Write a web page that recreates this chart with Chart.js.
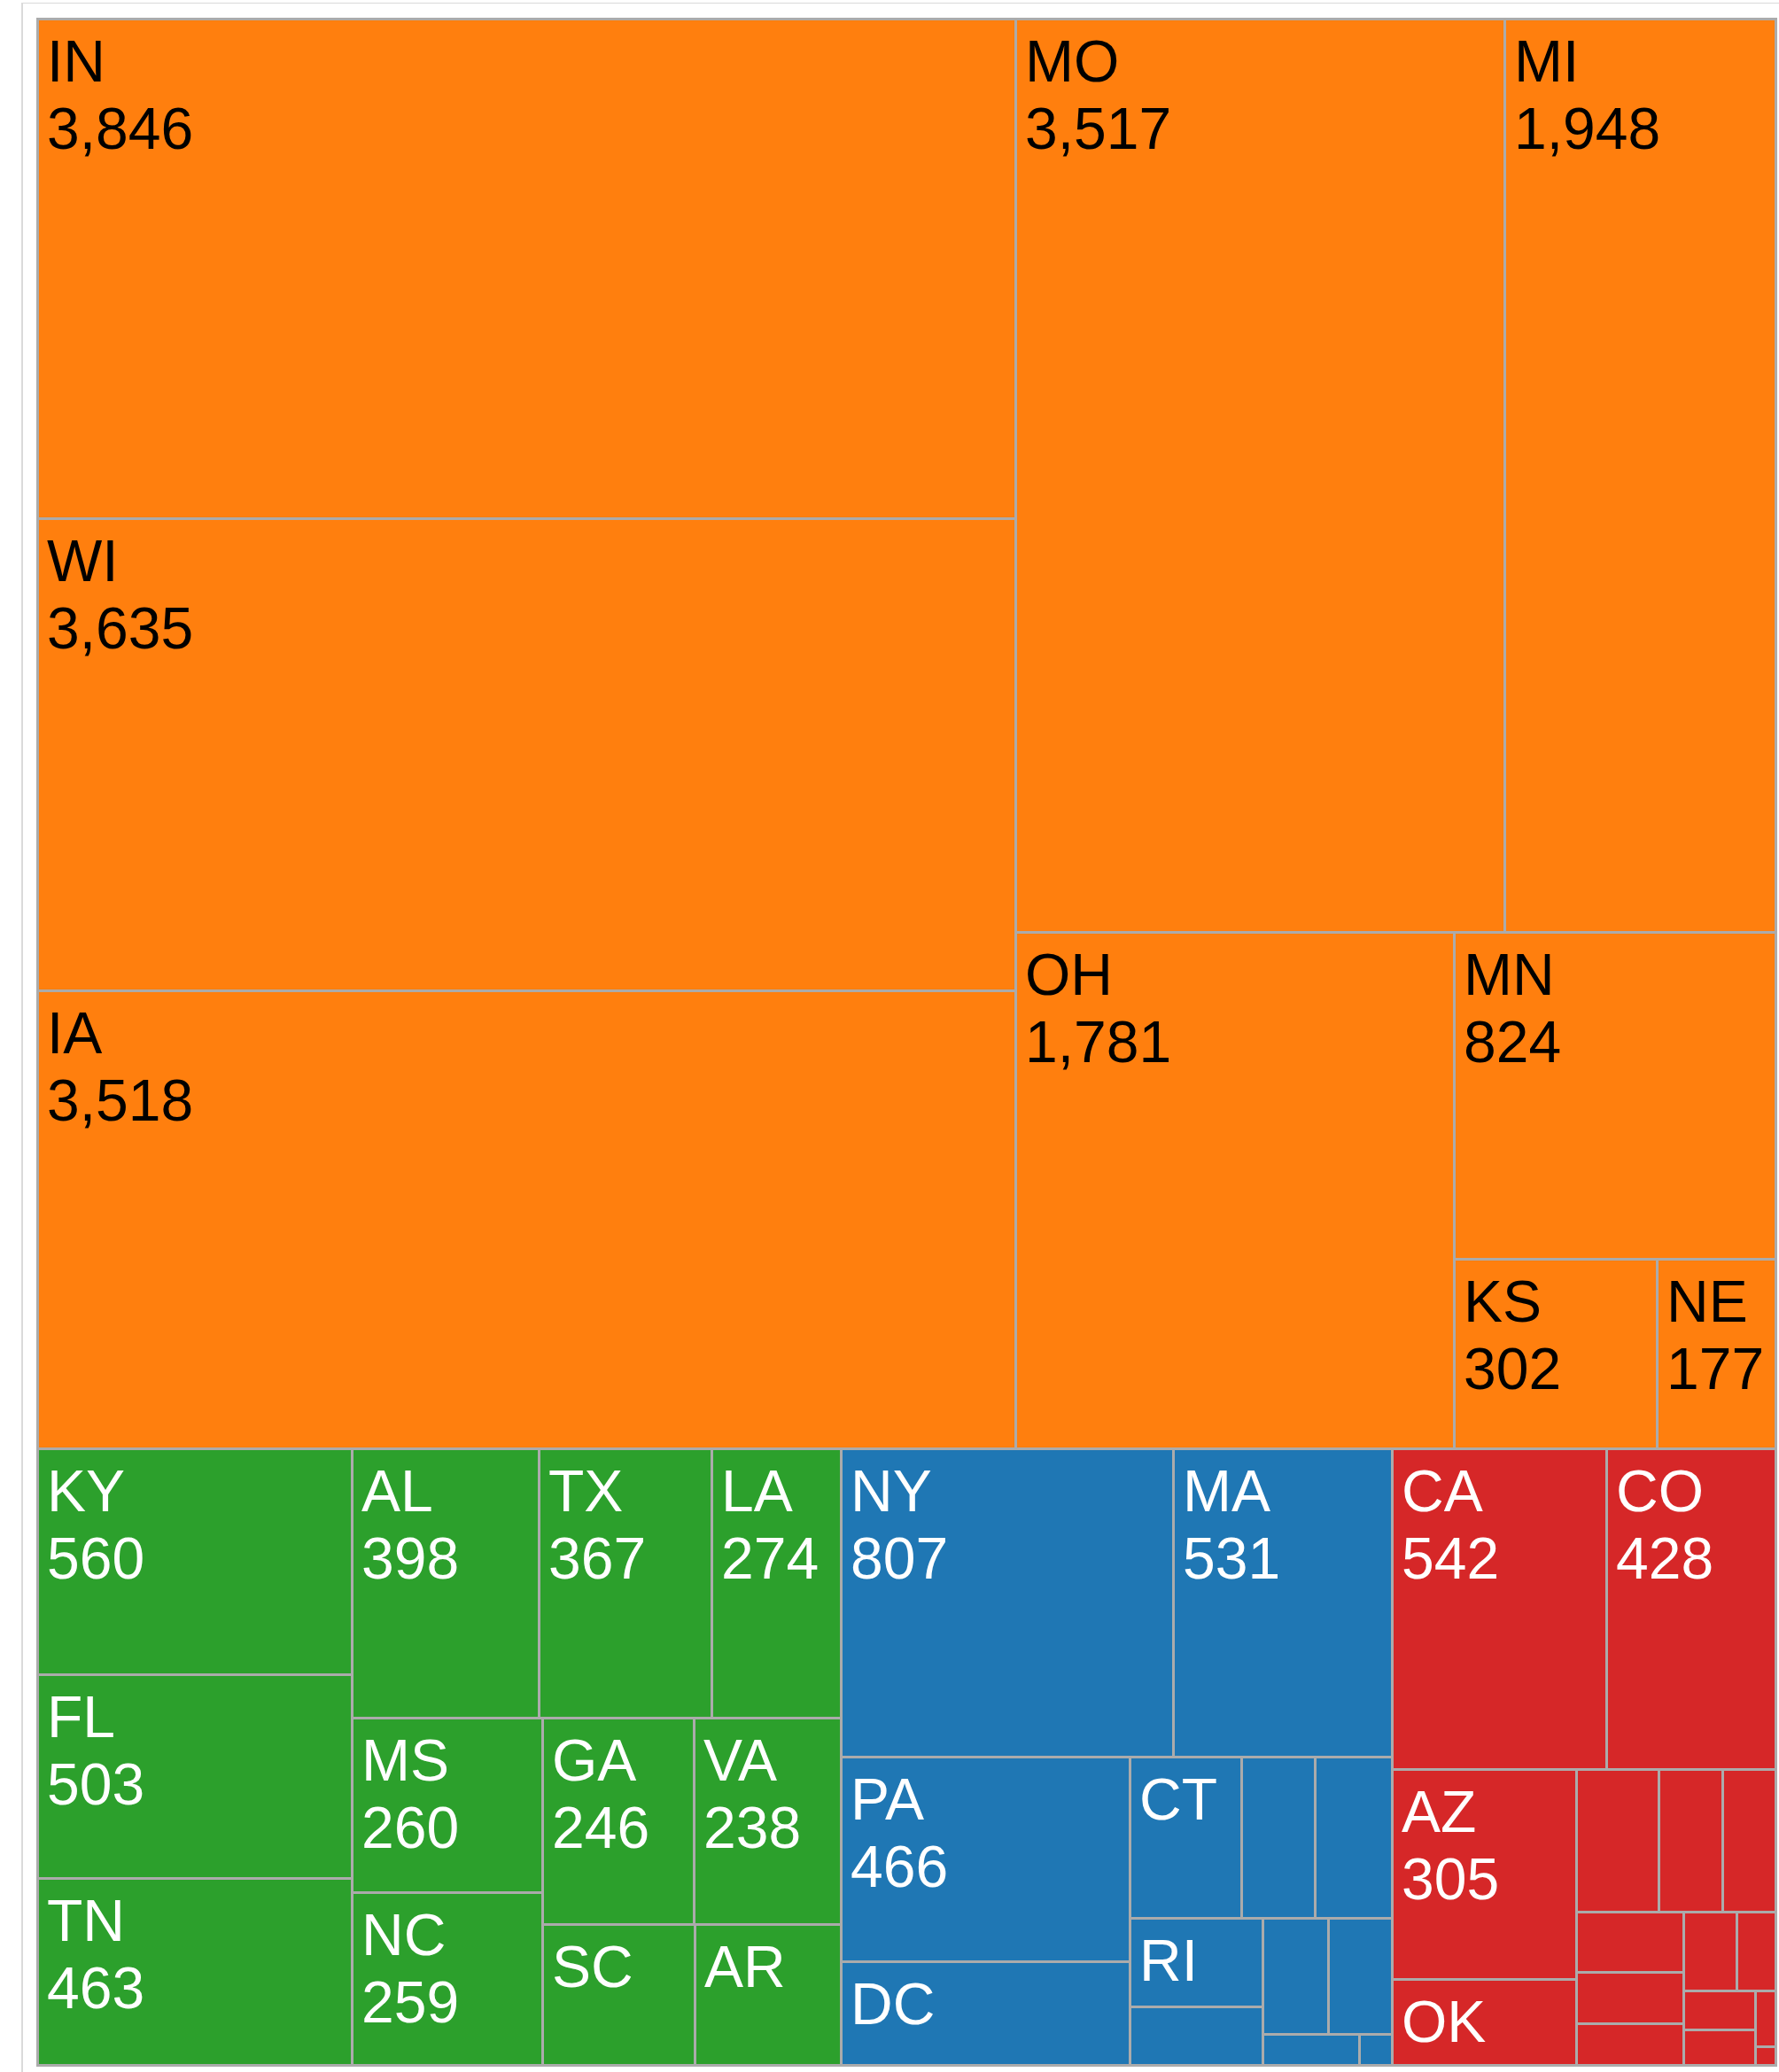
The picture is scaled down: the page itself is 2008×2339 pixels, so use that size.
<!DOCTYPE html>
<html>
<head>
<meta charset="utf-8">
<title>Treemap by state</title>
<script src="https://cdn.jsdelivr.net/npm/chart.js@4.4.1/dist/chart.umd.min.js"></script>
<style>
  html, body { margin: 0; padding: 0; background: #fff; }
  #frame {
    position: absolute; left: 24px; top: 3px; width: 1984px; height: 2336px;
    border-left: 2px solid #dadada; border-top: 1px solid #dadada;
  }
  #wrap { position: absolute; left: 0; top: 0; width: 2008px; height: 2339px; }
</style>
</head>
<body>
<div id="frame"></div>
<div id="wrap"><canvas id="chart" width="2008" height="2339"></canvas></div>
<script>
"use strict";

// 1: data, one pair of arrays per region (order as in the picture)
const regionNames = ["Midwest", "South", "Northeast", "West"];

const midwestStates = ["IN", "WI", "IA", "MO", "MI", "OH", "MN", "KS", "NE"];
const midwestCounts = [3846, 3635, 3518, 3517, 1948, 1781, 824, 302, 177];

const southStates = ["KY", "FL", "TN", "AL", "TX", "LA", "MS", "NC", "GA", "VA", "SC", "AR"];
const southCounts = [560, 503, 463, 398, 367, 274, 260, 259, 246, 238, 169, 162];

const northeastStates = ["NY", "MA", "PA", "DC", "CT", "NJ", "MD", "RI", "NH", "ME", "DE", "VT", "WV"];
const northeastCounts = [807, 531, 466, 235, 142, 93, 97, 93, 61, 60, 58, 24, 8];

const westStates = ["CA", "CO", "AZ", "OK", "WA", "OR", "NV", "UT", "NM", "ID", "MT", "WY", "HI", "AK", "ND", "SD"];
const westCounts = [542, 428, 305, 125, 92, 71, 60, 51, 43, 35, 33, 24, 22, 20, 9, 3];

// styles kept apart from the data
const regionColors = ["#ff7f0e", "#2ca02c", "#1f77b4", "#d62728"];
const regionText = ["#000000", "#ffffff", "#ffffff", "#ffffff"];

// 2: build the tree
function buildTree() {
  const lists = [
    [midwestStates, midwestCounts],
    [southStates, southCounts],
    [northeastStates, northeastCounts],
    [westStates, westCounts]
  ];
  return lists.map(([names, counts], i) => {
    const children = names.map((n, j) => ({ name: n, value: counts[j], region: i }));
    return { name: regionNames[i], region: i, children, value: counts.reduce((a, b) => a + b, 0) };
  });
}

// squarified tiling (golden ratio, same idea as d3.treemapSquarify)
const PHI = (1 + Math.sqrt(5)) / 2;

function dice(row, x0, y0, x1, y1, total) {
  const k = total ? (x1 - x0) / total : 0;
  for (const n of row) { n.y0 = y0; n.y1 = y1; n.x0 = x0; x0 += n.value * k; n.x1 = x0; }
}
function slice(row, x0, y0, x1, y1, total) {
  const k = total ? (y1 - y0) / total : 0;
  for (const n of row) { n.x0 = x0; n.x1 = x1; n.y0 = y0; y0 += n.value * k; n.y1 = y0; }
}
function squarify(nodes, x0, y0, x1, y1) {
  let value = nodes.reduce((s, n) => s + n.value, 0);
  let i0 = 0, i1 = 0;
  while (i0 < nodes.length) {
    const dx = x1 - x0, dy = y1 - y0;
    let sum = nodes[i1++].value;
    let minV = sum, maxV = sum;
    const alpha = Math.max(dy / dx, dx / dy) / (value * PHI);
    let beta = sum * sum * alpha;
    let minRatio = Math.max(maxV / beta, beta / minV);
    for (; i1 < nodes.length; ++i1) {
      const v = nodes[i1].value;
      sum += v;
      if (v < minV) minV = v;
      if (v > maxV) maxV = v;
      beta = sum * sum * alpha;
      const r = Math.max(maxV / beta, beta / minV);
      if (r > minRatio) { sum -= v; break; }
      minRatio = r;
    }
    const row = nodes.slice(i0, i1);
    if (dx < dy) {
      const yy = value ? y0 + dy * sum / value : y1;
      dice(row, x0, y0, x1, yy, sum);
      y0 = yy;
    } else {
      const xx = value ? x0 + dx * sum / value : x1;
      slice(row, x0, y0, xx, y1, sum);
      x0 = xx;
    }
    value -= sum;
    i0 = i1;
  }
}

const tree = buildTree();
let cells = [];

// lays the tree out in value space (0..1 on both scales),
// using the chart area's shape so the tiles keep their proportions
function layoutTree(chart) {
  const xs = chart.scales.x, ys = chart.scales.y;
  const W = Math.abs(xs.getPixelForValue(1) - xs.getPixelForValue(0));
  const H = Math.abs(ys.getPixelForValue(1) - ys.getPixelForValue(0));
  squarify(tree, 0, 0, W, H);
  cells = [];
  for (const g of tree) {
    squarify(g.children, g.x0, g.y0, g.x1, g.y1);
    for (const c of g.children) {
      cells.push({ name: c.name, value: c.value, region: c.region,
        x0: c.x0 / W, x1: c.x1 / W, y0: c.y0 / H, y1: c.y1 / H });
    }
  }
}

const treemapPlugin = {
  id: "treemapCells",
  afterLayout(chart) { layoutTree(chart); },
  afterDatasetsDraw(chart) {
    const ctx = chart.ctx, xs = chart.scales.x, ys = chart.scales.y;
    const px = v => Math.round(xs.getPixelForValue(v));
    const py = v => Math.round(ys.getPixelForValue(v));
    const boxes = cells.map(c => ({ c, X0: px(c.x0), X1: px(c.x1), Y0: py(c.y0), Y1: py(c.y1) }));
    ctx.save();
    for (const b of boxes) {
      ctx.fillStyle = regionColors[b.c.region];
      ctx.fillRect(b.X0, b.Y0, b.X1 - b.X0, b.Y1 - b.Y0);
    }
    ctx.strokeStyle = "#ababab";
    ctx.lineWidth = 3;
    for (const b of boxes) {
      ctx.strokeRect(b.X0 + 0.5, b.Y0 + 0.5, b.X1 - b.X0, b.Y1 - b.Y0);
    }
    ctx.font = '66px "Liberation Sans", Arial, sans-serif';
    ctx.textBaseline = "alphabetic";
    ctx.textAlign = "left";
    const pad = 11;
    for (const b of boxes) {
      const w = b.X1 - b.X0, h = b.Y1 - b.Y0;
      const label = b.c.name;
      const val = b.c.value.toLocaleString("en-US");
      ctx.fillStyle = regionText[b.c.region];
      if (ctx.measureText(label).width + 2 * pad <= w && h >= 86) {
        ctx.fillText(label, b.X0 + pad, b.Y0 + 71);
        if (ctx.measureText(val).width + 2 * pad <= w && h >= 177) {
          ctx.fillText(val, b.X0 + pad, b.Y0 + 147);
        }
      }
    }
    ctx.restore();
  }
};

// 3: create the chart
const chart = new Chart(document.getElementById("chart"), {
  type: "scatter",
  data: { datasets: [{ data: [] }] },
  options: {
    responsive: false,
    animation: false,
    devicePixelRatio: 1,
    layout: { padding: { left: 42, top: 21, right: 4, bottom: 8 } },
    scales: {
      x: { type: "linear", min: 0, max: 1, display: false },
      y: { type: "linear", min: 0, max: 1, reverse: true, display: false }
    },
    plugins: { legend: { display: false }, tooltip: { enabled: false } }
  },
  plugins: [treemapPlugin]
});
</script>
</body>
</html>
